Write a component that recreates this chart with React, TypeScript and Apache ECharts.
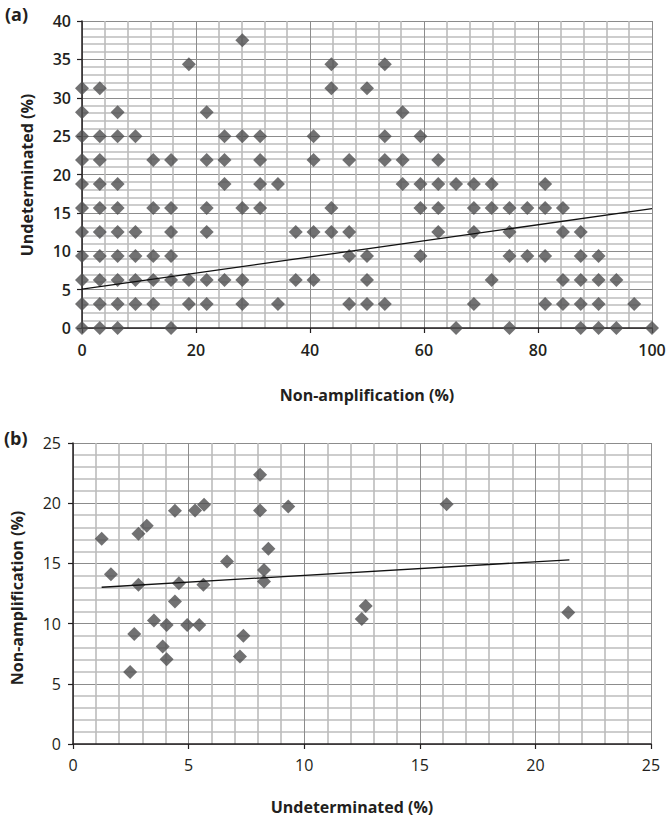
import React, { useEffect, useRef } from "react";
import * as echarts from "echarts";

// Panel (a): undetermined level (y) -> list of non-amplification values (x)
const aLevels = [0, 3.125, 6.25, 9.375, 12.5, 15.625, 18.75, 21.875, 25, 28.125, 31.25, 34.375, 37.5];
const aNonAmpByLevel: number[][] = [
  [0, 3.125, 6.25, 15.625, 65.625, 75, 87.5, 90.625, 93.75, 100],
  [0, 3.125, 6.25, 9.375, 12.5, 18.75, 21.875, 28.125, 34.375, 46.875, 50, 53.125, 68.75, 81.25, 84.375, 87.5, 90.625, 96.875],
  [0, 3.125, 6.25, 9.375, 12.5, 15.625, 18.75, 21.875, 25, 28.125, 37.5, 40.625, 50, 71.875, 84.375, 87.5, 90.625, 93.75],
  [0, 3.125, 6.25, 9.375, 12.5, 15.625, 46.875, 50, 59.375, 75, 78.125, 81.25, 87.5, 90.625],
  [0, 3.125, 6.25, 9.375, 15.625, 21.875, 37.5, 40.625, 43.75, 46.875, 62.5, 68.75, 75, 84.375, 87.5],
  [0, 3.125, 6.25, 12.5, 15.625, 21.875, 28.125, 31.25, 43.75, 59.375, 62.5, 68.75, 71.875, 75, 78.125, 81.25, 84.375],
  [0, 3.125, 6.25, 25, 31.25, 34.375, 56.25, 59.375, 62.5, 65.625, 68.75, 71.875, 81.25],
  [0, 3.125, 12.5, 15.625, 21.875, 25, 31.25, 40.625, 46.875, 53.125, 56.25, 62.5],
  [0, 3.125, 6.25, 9.375, 25, 28.125, 31.25, 40.625, 53.125, 59.375],
  [0, 6.25, 21.875, 56.25],
  [0, 3.125, 43.75, 50],
  [18.75, 43.75, 53.125],
  [28.125],
];
const aTrendX = [0, 100];
const aTrendY = [5.07, 15.55];

// Panel (b)
const bUndet = [1.24, 1.64, 2.47, 2.65, 2.83, 2.83, 3.19, 3.5, 3.88, 4.05, 4.05, 4.41, 4.41, 4.58, 4.94, 5.28, 5.67, 5.46, 5.64, 6.66, 7.22, 7.37, 8.09, 8.09, 8.45, 8.26, 8.26, 9.31, 12.49, 12.66, 16.16, 21.42];
const bNonAmp = [17.04, 14.1, 5.98, 9.14, 17.46, 13.22, 18.12, 10.25, 8.09, 9.89, 7.04, 19.37, 11.83, 13.36, 9.89, 19.4, 19.87, 9.89, 13.22, 15.15, 7.26, 9.0, 22.36, 19.4, 16.21, 14.46, 13.49, 19.73, 10.39, 11.47, 19.92, 10.92];
const bTrendX = [1.24, 21.47];
const bTrendY = [13.02, 15.3];

const FONT = "'Open Sans', 'Noto Sans', sans-serif";
const MARK = "#4d4d4f";

function axisCommon(interval: number, max: number, labelBold: boolean, margin: number) {
  return {
    type: "value" as const,
    min: 0,
    max,
    interval,
    axisLine: { show: true, onZero: false, lineStyle: { color: "#231f20", width: 1.5 } },
    axisTick: { show: true, inside: false, length: 5, lineStyle: { color: "#231f20", width: 1.2 } },
    axisLabel: {
      fontFamily: FONT,
      fontSize: 16,
      fontWeight: labelBold ? 600 : 400,
      color: "#231f20",
      margin,
    },
    splitLine: { show: true, lineStyle: { color: "#8c8c8c", width: 1 } },
    minorTick: { show: false, splitNumber: 5 },
    minorSplitLine: { show: true, lineStyle: { color: "#bcbcbc", width: 1.6 } },
  };
}

export default function App() {
  const ref = useRef<HTMLDivElement>(null);
  useEffect(() => {
    document.body.style.margin = "0";
    if (!ref.current) return;
    const chart = echarts.init(ref.current, null, { renderer: "svg" });
    const aData: number[][] = [];
    aLevels.forEach((lv, i) => aNonAmpByLevel[i].forEach((x) => aData.push([x, lv])));
    const bData = bUndet.map((x, i) => [x, bNonAmp[i]]);
    const xa = axisCommon(20, 100, true, 14);
    const ya = axisCommon(5, 40, true, 11);
    const xb = axisCommon(5, 25, false, 13);
    const yb = axisCommon(5, 25, false, 12);
    chart.setOption({
      animation: false,
      grid: [
        { left: 82, top: 21, width: 570, height: 307 },
        { left: 73, top: 443, width: 578, height: 301 },
      ],
      xAxis: [
        { ...xa, gridIndex: 0 },
        { ...xb, gridIndex: 1 },
      ],
      yAxis: [
        { ...ya, gridIndex: 0 },
        { ...yb, gridIndex: 1 },
      ],
      series: [
        {
          type: "scatter",
          xAxisIndex: 0,
          yAxisIndex: 0,
          symbol: "diamond",
          symbolSize: 14,
          itemStyle: { color: MARK },
          data: aData,
          z: 3,
        },
        {
          type: "line",
          xAxisIndex: 0,
          yAxisIndex: 0,
          showSymbol: false,
          symbol: "none",
          lineStyle: { color: "#111", width: 1.3 },
          data: aTrendX.map((x, i) => [x, aTrendY[i]]),
          z: 4,
        },
        {
          type: "scatter",
          xAxisIndex: 1,
          yAxisIndex: 1,
          symbol: "diamond",
          symbolSize: 14,
          itemStyle: { color: MARK },
          data: bData,
          z: 3,
        },
        {
          type: "line",
          xAxisIndex: 1,
          yAxisIndex: 1,
          showSymbol: false,
          symbol: "none",
          lineStyle: { color: "#111", width: 1.3 },
          data: bTrendX.map((x, i) => [x, bTrendY[i]]),
          z: 4,
        },
      ],
      graphic: [
        { type: "text", left: 5, top: 5, style: { text: "(a)", font: `bold 18px ${FONT}`, fill: "#231f20" } },
        { type: "text", left: 4, top: 429, style: { text: "(b)", font: `bold 18px ${FONT}`, fill: "#231f20" } },
        {
          type: "text",
          x: 27,
          y: 175,
          rotation: Math.PI / 2,
          style: { text: "Undeterminated (%)", font: `bold 16px ${FONT}`, fill: "#231f20", align: "center", verticalAlign: "middle" },
        },
        {
          type: "text",
          x: 367,
          y: 395,
          style: { text: "Non-amplification (%)", font: `bold 16px ${FONT}`, fill: "#231f20", align: "center", verticalAlign: "middle" },
        },
        {
          type: "text",
          x: 17,
          y: 598,
          rotation: Math.PI / 2,
          style: { text: "Non-amplification (%)", font: `bold 16px ${FONT}`, fill: "#231f20", align: "center", verticalAlign: "middle" },
        },
        {
          type: "text",
          x: 352,
          y: 807,
          style: { text: "Undeterminated (%)", font: `bold 16px ${FONT}`, fill: "#231f20", align: "center", verticalAlign: "middle" },
        },
      ],
    });
    return () => chart.dispose();
  }, []);
  return <div ref={ref} style={{ width: 669, height: 821 }} />;
}
